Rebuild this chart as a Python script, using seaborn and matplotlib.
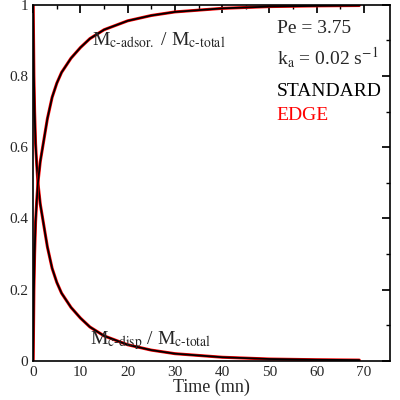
import matplotlib
matplotlib.use("Agg")
import matplotlib.pyplot as plt
import seaborn as sns
import pandas as pd

time = [0, 0.15, 0.3, 0.5, 0.75, 1, 1.5, 2, 2.5, 3, 4, 5, 6, 7, 8, 10, 12, 15, 20, 25, 30, 40, 50, 60, 69]
disp = [1.0, 0.80, 0.70, 0.61, 0.55, 0.50, 0.44, 0.40, 0.36, 0.32, 0.26, 0.22, 0.19, 0.17, 0.15, 0.12, 0.095, 0.07, 0.045, 0.03, 0.02, 0.01, 0.005, 0.003, 0.002]
adsor = [0.0, 0.20, 0.30, 0.39, 0.45, 0.50, 0.56, 0.60, 0.64, 0.68, 0.74, 0.78, 0.81, 0.83, 0.85, 0.88, 0.905, 0.93, 0.955, 0.97, 0.98, 0.99, 0.995, 0.997, 0.998]

sns.set_theme(style="white")
plt.rcParams['font.family'] = ['Liberation Serif', 'DejaVu Serif']
plt.rcParams['mathtext.fontset'] = 'stix'

df = pd.DataFrame({"t": time, "disp": disp, "adsor": adsor})
fig = plt.figure(figsize=(4, 4), dpi=100)
ax = fig.add_axes([0.083, 0.098, 0.892, 0.89])
for col in ["disp", "adsor"]:
    sns.lineplot(data=df, x="t", y=col, ax=ax, color="red", lw=2.2)
    sns.lineplot(data=df, x="t", y=col, ax=ax, color="black", lw=1.3)
ax.set_xlim(0, 75.5)
ax.set_ylim(0, 1)
ax.set_xticks(range(0, 71, 10))
ax.set_xticks(range(5, 71, 10), minor=True)
ax.set_yticks([0, 0.2, 0.4, 0.6, 0.8, 1])
ax.set_yticklabels(["0", "0.2", "0.4", "0.6", "0.8", "1"])
ax.set_yticks([0.1, 0.3, 0.5, 0.7, 0.9], minor=True)
ax.tick_params(direction="in", which="both", top=True, right=True, labelsize=11, length=6, color="black")
ax.tick_params(which="minor", length=3)
for s in ax.spines.values():
    s.set_color("black"); s.set_linewidth(1.2)
ax.set_xlabel("Time (mn)", fontsize=13, labelpad=0)
ax.set_ylabel("")
ax.text(12.5, 0.885, r"M$_{\rm c\text{-}adsor.}$ / M$_{\rm c\text{-}total}$", fontsize=14)
ax.text(12, 0.045, r"M$_{\rm c\text{-}disp}$ / M$_{\rm c\text{-}total}$", fontsize=14)
ax.text(51.5, 0.92, "Pe = 3.75", fontsize=14)
ax.text(51.5, 0.83, r"k$_{\rm a}$ = 0.02 s$^{-1}$", fontsize=14)
ax.text(51.5, 0.745, "STANDARD", fontsize=14, color="black")
ax.text(51.5, 0.675, "EDGE", fontsize=14, color="red")
fig.savefig("out.png", dpi=100)
